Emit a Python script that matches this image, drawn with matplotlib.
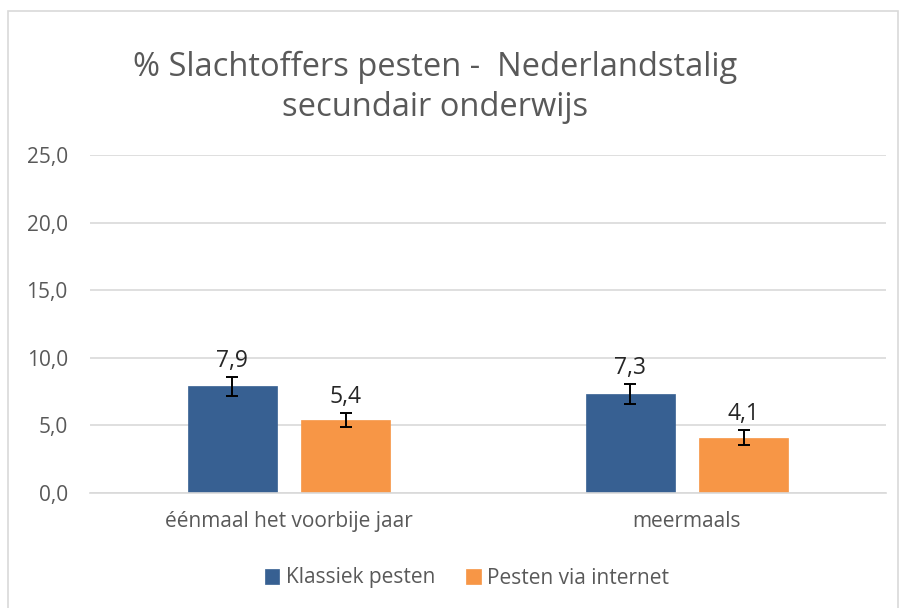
import matplotlib.pyplot as plt
import numpy as np
from matplotlib.patches import Rectangle

categories = ["éénmaal het voorbije jaar", "meermaals"]
series_names = ["Klassiek pesten", "Pesten via internet"]
klassiek = [7.9, 7.3]
internet = [5.4, 4.1]
klassiek_err = [0.7, 0.73]
internet_err = [0.55, 0.57]
y_ticks = [0, 5, 10, 15, 20, 25]

colors = ["#376092", "#F79646"]
text_col = "#595959"
grid_col = "#D9D9D9"

plt.rcParams["font.family"] = ["Open Sans", "DejaVu Sans"]

fig = plt.figure(figsize=(9.02, 6.08), dpi=100)
ax = fig.add_axes([90 / 902, 1 - 493 / 608, (886 - 90) / 902, (493 - 155) / 608])

x = np.arange(len(categories))
w = 0.224
off = 0.1426
for i, (vals, errs) in enumerate([(klassiek, klassiek_err), (internet, internet_err)]):
    xs = x + (-off if i == 0 else off)
    ax.bar(xs, vals, width=w, color=colors[i], label=series_names[i], zorder=2,
           edgecolor=colors[i], linewidth=0.5)
    ax.errorbar(xs, vals, yerr=errs, fmt="none", ecolor="black", elinewidth=1.4,
                capsize=4.3, capthick=1.4, zorder=3)
    for xi, v, e in zip(xs, vals, errs):
        ax.text(xi, v + e + 0.3, f"{v:.1f}".replace(".", ","), ha="center", va="bottom",
                fontsize=16.5, color="#262626", zorder=4)

ax.set_xlim(-0.5, 1.5)
ax.set_ylim(0, 25)
ax.set_yticks(y_ticks)
ax.set_yticklabels([f"{t:.1f}".replace(".", ",") for t in y_ticks], fontsize=15, color=text_col)
ax.set_xticks(x)
ax.set_xticklabels(categories, fontsize=15, color=text_col)
ax.tick_params(length=0, pad=13)
ax.tick_params(axis="y", pad=16)
ax.yaxis.grid(True, color=grid_col, linewidth=1.2, zorder=0)
for s in ["top", "right", "left"]:
    ax.spines[s].set_visible(False)
ax.spines["bottom"].set_color(grid_col)
ax.spines["bottom"].set_linewidth(1.2)

fig.text(435 / 902, 1 - 67 / 608, "% Slachtoffers pesten -  Nederlandstalig", ha="center",
         va="center", fontsize=23.5, color=text_col)
fig.text(435 / 902, 1 - 108 / 608, "secundair onderwijs", ha="center",
         va="center", fontsize=23.5, color=text_col)

fig.legend(loc="center", bbox_to_anchor=(467 / 902, 1 - 578 / 608), ncol=2, frameon=False,
           fontsize=15, labelcolor=text_col, handlelength=0.7, handleheight=0.7,
           handletextpad=0.3, columnspacing=1.5)

# outer chart border
fig.patches.append(Rectangle((8 / 902, -0.01), 890 / 902, 1 - 11 / 608 + 0.01,
                             transform=fig.transFigure, fill=False,
                             edgecolor=grid_col, linewidth=1.2))

fig.savefig("out.png", dpi=100)
